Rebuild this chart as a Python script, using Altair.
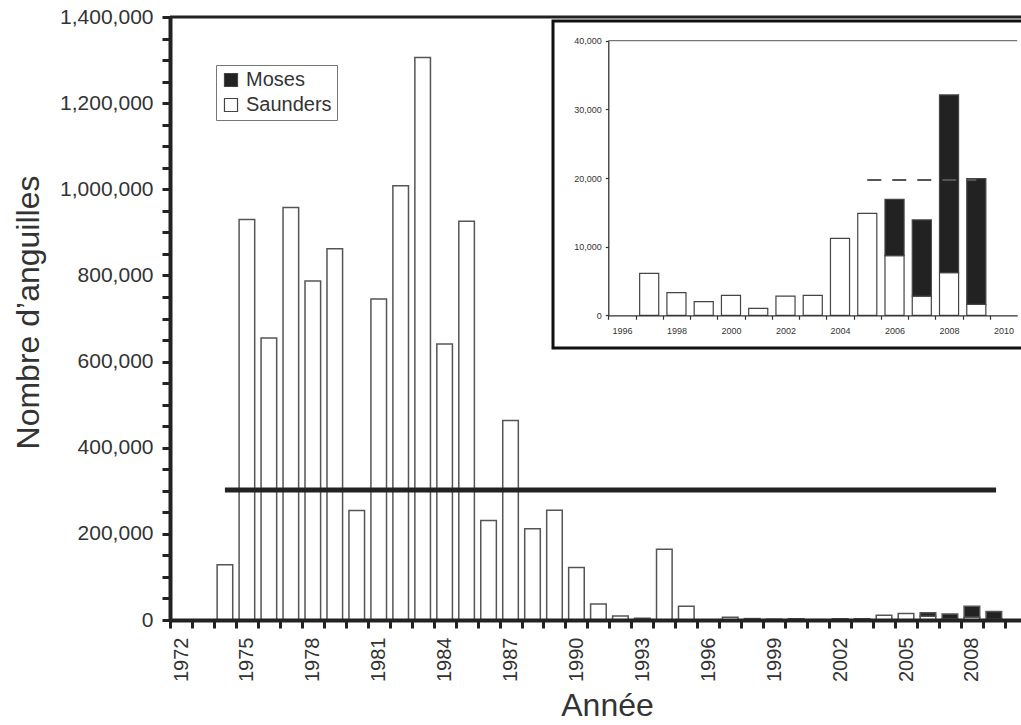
import altair as alt
import pandas as pd

# ---------------- data ----------------
years = list(range(1974, 2010))
saunders = [128000, 930000, 655000, 958000, 787000, 862000, 254000, 745000,
            1008000, 1306000, 641000, 926000, 231000, 463000, 212000, 255000,
            122000, 37000, 9000, 4000, 164000, 32000, 0, 6100, 3300, 2000,
            2900, 1000, 2800, 2900, 11200, 14850, 8700, 2800, 6200, 1600]
moses_years = [2006, 2007, 2008, 2009]
moses = [8200, 11100, 25900, 18300]

series_names = ["Moses", "Saunders"]
ref_level_main = 302000
ref_years_main = [1974, 2009.1]
ref_level_inset = 19700
ref_years_inset = [2005, 2009]

x_label_years = [1972, 1975, 1978, 1981, 1984, 1987, 1990, 1993, 1996, 1999, 2002, 2005, 2008]
y_major = [0, 200000, 400000, 600000, 800000, 1000000, 1200000, 1400000]
inset_y_ticks = [0, 10000, 20000, 30000, 40000]
inset_first_year = 1997

# ---------------- tables ----------------
rows = []
s_by_year = dict(zip(years, saunders))
for yr, v in zip(years, saunders):
    if v > 0:
        rows.append({"year": yr, "series": "Saunders", "y0": 0, "y1": v})
for yr, v in zip(moses_years, moses):
    base = s_by_year[yr]
    rows.append({"year": yr, "series": "Moses", "y0": base, "y1": base + v})
df = pd.DataFrame(rows)
df_inset = df[df["year"] >= inset_first_year]

FONT = "Liberation Sans"
TXT = "#333333"
DARK = "#222222"

# ---------------- main chart ----------------
x_dom = [1971.5, 1971.5 + 851 / 21.97]
xs = alt.Scale(domain=x_dom, nice=False, zero=False)
ys = alt.Scale(domain=[0, 1400000], nice=False)

tick_vals_x = [y - 0.5 for y in range(1972, 2011)]
x_axis = alt.Axis(
    values=tick_vals_x,
    labelExpr="indexof(%s, datum.value + 0.5) >= 0 ? toString(datum.value + 0.5) : ''" % str(x_label_years),
    labelOffset=11, labelAngle=270, labelAlign="right", labelBaseline="middle",
    labelFont=FONT, labelFontSize=20, labelColor=TXT, labelPadding=9,
    labelFlush=False, labelOverlap=False, labelBound=False,
    ticks=True, tickSize=8, tickWidth=3, tickColor=DARK, tickOpacity=1,
    domainWidth=4, domainColor=DARK, grid=False, zindex=2,
    title="Année", titleFont=FONT, titleFontSize=32, titleFontWeight="normal",
    titleColor=TXT, titleX=437, titleY=85, titleAlign="center", titleBaseline="middle",
)
y_axis = alt.Axis(
    values=list(range(0, 1400001, 50000)),
    labelExpr="indexof(%s, datum.value) >= 0 ? format(datum.value, ',') : ''" % str(y_major),
    labelFont=FONT, labelFontSize=21, labelColor=TXT, labelPadding=9,
    labelFlush=False, labelOverlap=False, labelBound=False,
    ticks=True, tickSize=8, tickWidth=3, tickColor=DARK, tickOpacity=1,
    domainWidth=4, domainColor=DARK, grid=False, zindex=2,
    title="Nombre d’anguilles", titleFont=FONT, titleFontSize=32, titleFontWeight="normal",
    titleColor=TXT, titleAngle=270, titleX=-142, titleY=295, titleAlign="center",
    titleBaseline="middle",
)

legend = alt.Legend(
    title=None, orient="none", legendX=46, legendY=48,
    strokeColor="#777777", fillColor="white", padding=5,
    labelFont=FONT, labelFontSize=20, labelColor=TXT, labelOffset=5,
    symbolType="square", symbolSize=170, symbolStrokeColor="#444444",
    symbolStrokeWidth=1.2, rowPadding=5,
)

color_scale = alt.Scale(domain=series_names, range=["#222222", "#ffffff"])

main_bars = alt.Chart(df).transform_calculate(
    xa="datum.year - 0.355", xb="datum.year + 0.355"
).mark_bar(stroke="#555555", strokeWidth=1.5).encode(
    x=alt.X("xa:Q", scale=xs, axis=x_axis),
    x2="xb:Q",
    y=alt.Y("y0:Q", scale=ys, axis=y_axis),
    y2="y1:Q",
    color=alt.Color("series:N", scale=color_scale, legend=legend),
)

ref_main = alt.Chart(pd.DataFrame({"xa": [ref_years_main[0]], "xb": [ref_years_main[1]],
                                   "y0": [ref_level_main]})).mark_rule(
    color=DARK, strokeWidth=5).encode(
    x=alt.X("xa:Q", scale=xs, axis=x_axis), x2="xb:Q",
    y=alt.Y("y0:Q", scale=ys, axis=y_axis))

top_line = alt.Chart(pd.DataFrame({"y0": [y_major[-1]]})).mark_rule(
    color=DARK, strokeWidth=3).encode(y=alt.Y("y0:Q", scale=ys, axis=y_axis))

main = alt.layer(main_bars, ref_main, top_line)

# ---------------- inset ----------------
ixs = alt.Scale(domain=[1995.5, 2010.5], range=[438.3, 847.2], nice=False, zero=False)
iys = alt.Scale(domain=[0, 40000], range=[298.3, 23.7], nice=False)

ix_axis = alt.Axis(
    orient="bottom", offset=-304.7,
    values=[y + 0.5 for y in range(1995, 2010)],
    labelExpr="(datum.value + 0.5) % 2 == 0 ? toString(datum.value + 0.5) : ''",
    labelOffset=13.6, labelFont=FONT, labelFontSize=9, labelColor=TXT, labelPadding=7,
    labelFlush=False, labelOverlap=False, labelBound=False,
    ticks=True, tickSize=4, tickWidth=1.2, tickColor="#333333", tickOpacity=1,
    domainWidth=1.3, domainColor="#333333", grid=False, title=None, zindex=3,
)
iy_axis = alt.Axis(
    orient="left", offset=-438.3, values=inset_y_ticks,
    labelExpr="format(datum.value, ',')",
    labelFont=FONT, labelFontSize=9, labelColor=TXT, labelPadding=4,
    labelFlush=False, labelOverlap=False, labelBound=False,
    ticks=True, tickSize=3, tickWidth=1.2, tickColor="#333333", tickOpacity=1,
    domainWidth=1.3, domainColor="#333333", grid=False, title=None, zindex=3,
)

frame = alt.Chart(pd.DataFrame({"k": [0]})).mark_rect(
    fill="white", stroke="#111111", strokeWidth=3).encode(
    x=alt.value(383), x2=alt.value(880), y=alt.value(4), y2=alt.value(331))

inset_bars = alt.Chart(df_inset).transform_calculate(
    xa="datum.year - 0.35", xb="datum.year + 0.35"
).mark_bar(stroke="#444444", strokeWidth=1.2).encode(
    x=alt.X("xa:Q", scale=ixs, axis=ix_axis),
    x2="xb:Q",
    y=alt.Y("y0:Q", scale=iys, axis=iy_axis),
    y2="y1:Q",
    color=alt.Color("series:N", scale=color_scale, legend=None),
)

inset_top = alt.Chart(pd.DataFrame({"xa": [1995.5], "xb": [2010.5], "y0": [inset_y_ticks[-1]]})).mark_rule(
    color="#555555", strokeWidth=1).encode(
    x=alt.X("xa:Q", scale=ixs, axis=ix_axis), x2="xb:Q",
    y=alt.Y("y0:Q", scale=iys, axis=iy_axis))

ref_inset = alt.Chart(pd.DataFrame({"xa": [ref_years_inset[0]], "xb": [ref_years_inset[1]],
                                    "y0": [ref_level_inset]})).mark_rule(
    color="#555555", strokeWidth=2, strokeDash=[14, 11]).encode(
    x=alt.X("xa:Q", scale=ixs, axis=ix_axis), x2="xb:Q",
    y=alt.Y("y0:Q", scale=iys, axis=iy_axis))

inset = alt.layer(frame, inset_top, inset_bars, ref_inset)

chart = alt.layer(main, inset).resolve_scale(
    x="independent", y="independent", color="independent"
).resolve_axis(x="independent", y="independent").properties(
    width=851, height=603,
    padding={"left": 170, "top": 17, "right": 0, "bottom": 105},
    autosize="none", background="white",
).configure_view(strokeWidth=0)

chart.save("out.html", embed_options={"renderer": "svg", "actions": False})
